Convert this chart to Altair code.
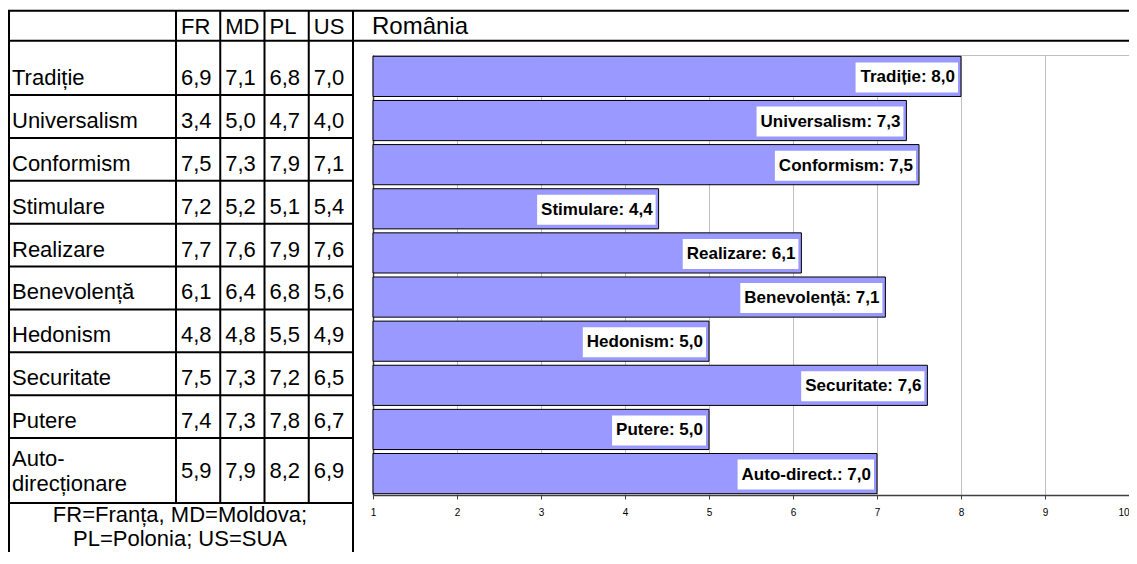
import altair as alt
import pandas as pd

# ---------------- data ----------------
categories = ["Tradiție", "Universalism", "Conformism", "Stimulare", "Realizare",
              "Benevolență", "Hedonism", "Securitate", "Putere", "Auto-direcționare"]
row_labels = ["Tradiție", "Universalism", "Conformism", "Stimulare", "Realizare",
              "Benevolență", "Hedonism", "Securitate", "Putere", "Auto-\ndirecționare"]
bar_names = ["Tradiție", "Universalism", "Conformism", "Stimulare", "Realizare",
             "Benevolență", "Hedonism", "Securitate", "Putere", "Auto-direct."]
countries = ["FR", "MD", "PL", "US"]
fr = [6.9, 3.4, 7.5, 7.2, 7.7, 6.1, 4.8, 7.5, 7.4, 5.9]
md = [7.1, 5.0, 7.3, 5.2, 7.6, 6.4, 4.8, 7.3, 7.3, 7.9]
pl = [6.8, 4.7, 7.9, 5.1, 7.9, 6.8, 5.5, 7.2, 7.8, 8.2]
us = [7.0, 4.0, 7.1, 5.4, 7.6, 5.6, 4.9, 6.5, 6.7, 6.9]
romania = [8.0, 7.35, 7.5, 4.4, 6.1, 7.1, 5.0, 7.6, 5.0, 7.0]
romania_shown = ["8,0", "7,3", "7,5", "4,4", "6,1", "7,1", "5,0", "7,6", "5,0", "7,0"]
x_ticks = [1, 2, 3, 4, 5, 6, 7, 8, 9, 10]
chart_title = "România"
legend_text = "FR=Franța, MD=Moldova;\nPL=Polonia; US=SUA"

# ---------------- layout / style ----------------
FONT = "Liberation Sans"
W, H = 756, 440
PAD = {"left": 365, "top": 47, "right": 0, "bottom": 57}
PX_PER_UNIT = W / 9.0
LABEL_FS = 17
BOLD_W = {'T': 611, 'r': 389, 'a': 556, 'd': 611, 'i': 278, 'ț': 333, 'e': 556, ':': 333,
          ' ': 278, ',': 278, 'U': 722, 'n': 611, 'v': 556, 's': 556, 'l': 278, 'm': 889,
          'C': 722, 'o': 611, 'f': 333, 'S': 667, 't': 333, 'z': 500, 'R': 722, 'B': 722,
          'ă': 556, 'H': 722, 'P': 667, 'u': 611, 'c': 556, 'A': 722, '-': 333, '.': 278}


def text_w(s, fs):
    return sum(BOLD_W.get(ch, 556) for ch in s) * fs / 1000.0


def fmt(v):
    return f"{v:.1f}".replace(".", ",")


bars = pd.DataFrame({"cat": categories, "ro": romania,
                     "lab": [f"{n}: {s}" for n, s in zip(bar_names, romania_shown)]})
bars["box_r"] = bars["ro"] - 3 / PX_PER_UNIT
bars["box_l"] = [v - (6 + text_w(t, LABEL_FS) + 4) / PX_PER_UNIT for v, t in zip(bars["ro"], bars["lab"])]

rows = pd.DataFrame({"cat": categories, "label": row_labels})
cells = pd.DataFrame([{"cat": c, "col": k, "txt": fmt(v)}
                      for k, vals in zip(countries, [fr, md, pl, us])
                      for c, v in zip(categories, vals)])
hdr = pd.DataFrame({"col": countries})
one = pd.DataFrame({"k": [0]})
last = categories[-1]

# ---------------- bar group ----------------
xs = alt.Scale(domain=[1, 10], nice=False, zero=False)
ys = alt.Scale(domain=categories, paddingInner=0.09, paddingOuter=0.03)

bar_layer = alt.Chart(bars).mark_bar(fill="#9999FF", stroke="black", strokeWidth=1).encode(
    x=alt.X("ro:Q", scale=xs, axis=alt.Axis(values=x_ticks, format="d", grid=True, gridColor="#c0c0c0",
                                            gridWidth=1, domainColor="#404040", domainWidth=1.5,
                                            tickColor="#404040", tickSize=4, labelFontSize=10,
                                            labelFont=FONT, labelColor="black", labelPadding=8,
                                            labelAlign={"expr": "datum.value == 10 ? 'right' : 'center'"},
                                            title=None, labelFlush=False)),
    x2=alt.datum(1),
    y=alt.Y("cat:N", sort=categories, scale=ys,
            axis=alt.Axis(labels=False, ticks=False, title=None, grid=False,
                          domainColor="#404040", domainWidth=1.5)),
)
box_layer = alt.Chart(bars).mark_bar(fill="white", size=30, yOffset=1).encode(
    x=alt.X("box_l:Q", scale=xs), x2="box_r:Q",
    y=alt.Y("cat:N", sort=categories, scale=ys),
)
lab_layer = alt.Chart(bars).mark_text(align="right", baseline="middle", dx=-6, dy=1, font=FONT,
                                      fontSize=LABEL_FS, fontWeight="bold", color="black").encode(
    x=alt.X("ro:Q", scale=xs),
    y=alt.Y("cat:N", sort=categories, scale=ys),
    text="lab:N",
)
bar_group = alt.layer(bar_layer, box_layer, lab_layer)

# ---------------- table group ----------------
ty = alt.Scale(domain=categories, range=[-2.875, 426.0], paddingInner=0, paddingOuter=0)
tx = alt.Scale(domain=countries, range=[-197, -20], paddingInner=0, paddingOuter=0)
LW = 2
X_LEFT = -364
BOTTOM = H + PAD["bottom"] + 2


def hline(y, x1, x2):
    return alt.Chart(one).mark_rule(color="black", strokeWidth=LW).encode(
        y=alt.value(y), x=alt.value(x1), x2=alt.value(x2))


def vline(x, y1, y2):
    return alt.Chart(one).mark_rule(color="black", strokeWidth=LW).encode(
        x=alt.value(x), y=alt.value(y1), y2=alt.value(y2))


row_lines = alt.Chart(rows[rows.cat != categories[0]]).mark_rule(color="black", strokeWidth=LW).encode(
    y=alt.Y("cat:N", bandPosition=0, scale=ty, axis=None),
    x=alt.value(X_LEFT), x2=alt.value(-20),
)
col_lines = alt.Chart(hdr).mark_rule(color="black", strokeWidth=LW).encode(
    x=alt.X("col:N", bandPosition=0, scale=tx, axis=None),
    y=alt.value(-44.3), y2=alt.value(448),
)
txt_kw = dict(font=FONT, fontSize=22, color="black", baseline="alphabetic")
cells_main = alt.Chart(cells[cells.cat != last]).mark_text(align="left", dx=5, dy=-10, **txt_kw).encode(
    x=alt.X("col:N", bandPosition=0, scale=tx, axis=None),
    y=alt.Y("cat:N", bandPosition=1, scale=ty, axis=None),
    text="txt:N",
)
cells_last = alt.Chart(cells[cells.cat == last]).mark_text(align="left", dx=5, dy=40, **txt_kw).encode(
    x=alt.X("col:N", bandPosition=0, scale=tx, axis=None),
    y=alt.Y("cat:N", bandPosition=0, scale=ty, axis=None),
    text="txt:N",
)
labels_main = alt.Chart(rows[rows.cat != last]).mark_text(align="left", dy=-10, **txt_kw).encode(
    x=alt.value(-361),
    y=alt.Y("cat:N", bandPosition=1, scale=ty, axis=None),
    text="label:N",
)
labels_last = alt.Chart(rows[rows.cat == last]).mark_text(align="left", dy=28, lineBreak="\n",
                                                          lineHeight=25, **txt_kw).encode(
    x=alt.value(-361),
    y=alt.Y("cat:N", bandPosition=0, scale=ty, axis=None),
    text="label:N",
)
header = alt.Chart(hdr).mark_text(align="left", dx=5, **txt_kw).encode(
    x=alt.X("col:N", bandPosition=0, scale=tx, axis=None),
    y=alt.value(-21),
    text="col:N",
)
title_txt = alt.Chart(pd.DataFrame({"t": [chart_title]})).mark_text(
    align="left", font=FONT, fontSize=24, color="black", baseline="alphabetic").encode(
    x=alt.value(-1), y=alt.value(-20.7), text="t:N")
legend_txt = alt.Chart(pd.DataFrame({"t": [legend_text]})).mark_text(
    align="center", lineBreak="\n", lineHeight=24, **txt_kw).encode(
    x=alt.value(-193), y=alt.value(467), text="t:N")

table_group = alt.layer(
    row_lines, col_lines,
    hline(-44.3, X_LEFT - 1, W), hline(-14.3, X_LEFT - 1, W), hline(448, X_LEFT - 1, -20),
    vline(X_LEFT, -44.3, BOTTOM), vline(-20, -44.3, BOTTOM),
    header, title_txt, cells_main, cells_last, labels_main, labels_last, legend_txt,
)

chart = alt.layer(table_group, bar_group).resolve_scale(x="independent", y="independent").properties(
    width=W, height=H,
    padding=PAD,
    autosize=alt.AutoSizeParams(type="none"),
    background="white",
).configure_view(stroke="#c0c0c0", strokeWidth=1)

chart.save("out.html", embed_options={"renderer": "svg", "actions": False})
